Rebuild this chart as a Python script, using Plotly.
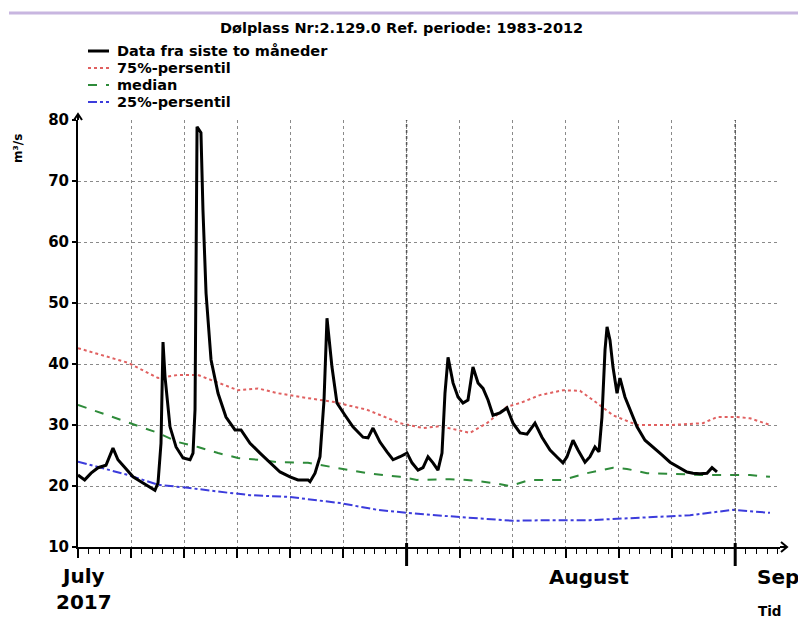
import pandas as pd
import plotly.graph_objects as go

# ---------------- data ----------------
start_date = "2017-07-01"

# observed discharge (days since 1 July 2017, m3/s)
obs_days = [0.00, 0.63, 1.23, 1.89, 2.64, 3.30, 3.77, 4.43, 5.19, 5.94, 6.79, 7.26, 7.55,
            7.83, 8.02, 8.21, 8.68, 9.25, 9.91, 10.57, 10.85, 11.04, 11.23, 11.60, 11.79,
            12.08, 12.55, 13.21, 13.96, 14.81, 15.38, 16.23, 17.17, 18.11, 19.06, 20.00,
            20.75, 21.70, 21.89, 22.36, 22.83, 23.21, 23.49, 23.96, 24.43, 25.19, 25.94,
            26.89, 27.36, 27.83, 28.49, 29.15, 29.72, 30.38, 31.04, 31.51, 32.08, 32.55,
            33.02, 33.49, 33.96, 34.34, 34.62, 34.91, 35.38, 35.85, 36.32, 36.79, 37.26,
            37.74, 38.21, 38.68, 39.15, 39.81, 40.47, 41.04, 41.70, 42.36, 43.11, 43.77,
            44.53, 45.28, 45.75, 46.13, 46.70, 47.17, 47.83, 48.30, 48.77, 49.15, 49.43,
            49.72, 49.91, 50.19, 50.47, 50.85, 51.13, 51.60, 52.08, 52.74, 53.49, 54.25,
            55.09, 55.85, 56.60, 57.45, 58.02, 58.68, 59.34, 59.81, 60.28]
obs_values = [21.8, 21.0, 22.1, 23.0, 23.4, 26.2, 24.3, 23.0, 21.5, 20.7, 19.8, 19.3, 20.5,
              27.0, 43.6, 37.9, 29.7, 26.4, 24.6, 24.3, 25.4, 32.5, 78.9, 77.9, 65.2,
              51.6, 40.7, 35.2, 31.3, 29.2, 29.2, 27.0, 25.4, 23.8, 22.3, 21.5,
              21.0, 21.0, 20.7, 22.1, 24.8, 34.1, 47.5, 39.5, 33.6, 31.6, 29.7,
              28.0, 27.9, 29.5, 27.2, 25.6, 24.3, 24.8, 25.4, 23.8, 22.6, 23.0,
              24.8, 23.8, 22.6, 25.4, 35.2, 41.1, 36.9, 34.6, 33.6, 34.1, 39.5,
              36.9, 36.0, 34.1, 31.6, 32.0, 32.8, 30.3, 28.7, 28.5, 30.3, 28.0,
              25.9, 24.6, 23.8, 24.8, 27.5, 25.9, 23.9, 24.8, 26.4, 25.6, 31.3,
              42.3, 46.1, 43.9, 39.5, 35.2, 37.7, 34.6, 32.5, 29.7, 27.5, 26.4,
              25.1, 23.9, 23.1, 22.3, 22.1, 22.0, 22.1, 23.0, 22.3]

p75_days = [0.00, 4.72, 7.55, 9.43, 11.32, 13.21, 15.09, 16.98, 18.87, 20.94, 24.06, 27.26,
            30.38, 32.55, 34.15, 35.75, 36.98, 38.58, 40.47, 41.70, 43.58, 45.75, 47.36,
            48.96, 50.47, 52.74, 55.85, 58.96, 60.28, 62.17, 63.40, 65.28]
p75_values = [42.6, 40.2, 37.7, 38.2, 38.2, 36.9, 35.7, 36.0, 35.2, 34.6, 33.8, 32.5,
              30.3, 29.5, 29.8, 29.2, 28.7, 30.3, 33.0, 33.6, 34.9, 35.7, 35.6,
              33.6, 31.6, 30.0, 30.0, 30.3, 31.3, 31.3, 31.1, 30.0]

med_days = [0.00, 4.72, 7.55, 9.43, 11.32, 13.21, 15.09, 16.98, 18.87, 21.70, 24.06, 27.26,
            30.38, 31.98, 35.09, 36.70, 39.15, 40.75, 42.64, 45.75, 48.02, 50.47, 51.79,
            53.68, 55.85, 58.96, 63.40, 65.28]
med_values = [33.3, 30.5, 28.7, 27.2, 26.4, 25.4, 24.6, 24.3, 23.9, 23.8, 23.1, 22.1,
              21.5, 21.0, 21.1, 21.0, 20.5, 20.0, 21.0, 21.0, 22.1, 23.0, 22.8,
              22.1, 22.0, 21.8, 21.8, 21.5]

p25_days = [0.00, 4.72, 7.55, 10.38, 14.15, 16.23, 20.00, 24.72, 28.21, 31.04, 36.04, 41.04,
            44.53, 48.30, 53.02, 57.74, 61.79, 65.28]
p25_values = [24.0, 21.8, 20.2, 19.7, 18.9, 18.5, 18.2, 17.2, 16.1, 15.6, 14.9, 14.3,
              14.4, 14.4, 14.8, 15.2, 16.1, 15.6]

y_ticks = [10, 20, 30, 40, 50, 60, 70, 80]
x_tick_dates = ["2017-07-01", "2017-07-06", "2017-07-11", "2017-07-16", "2017-07-21",
                "2017-07-26", "2017-08-01", "2017-08-06", "2017-08-11", "2017-08-16",
                "2017-08-21", "2017-08-26", "2017-09-01"]
month_starts = ["2017-08-01", "2017-09-01"]

title_text = "Dølplass Nr:2.129.0 Ref. periode: 1983-2012"
legend_names = ["Data fra siste to måneder", "75%-persentil", "median", "25%-persentil"]

# ---------------- helpers ----------------
base = pd.Timestamp(start_date)


def to_dates(days):
    return [base + pd.Timedelta(days=d) for d in days]


W, H = 798, 622
L, R, T, B = 78, 780, 120, 547  # plot area in pixels


def px(x):
    return (x - L) / (R - L)


def py(y):
    return (B - y) / (B - T)


FONT = "DejaVu Sans"
colors = ["black", "#e06060", "#2e8b3a", "#3c3cdc"]
dashes = ["solid", "dot", "dash", "dashdot"]
widths = [3, 2, 2, 2]

fig = go.Figure()
series = [(obs_days, obs_values), (p75_days, p75_values), (med_days, med_values),
          (p25_days, p25_values)]
# draw percentiles first, observed on top
for i in [1, 2, 3, 0]:
    d, v = series[i]
    fig.add_trace(go.Scatter(x=to_dates(d), y=v, mode="lines", name=legend_names[i],
                             showlegend=False,
                             line=dict(color=colors[i], width=widths[i], dash=dashes[i])))

x_end = base + pd.Timedelta(days=(R - L) / 10.6)

fig.update_xaxes(
    type="date", range=[base, x_end], showline=True, linecolor="black", linewidth=2,
    tickvals=x_tick_dates, showticklabels=False, ticks="outside", ticklen=9,
    tickwidth=2, tickcolor="black",
    showgrid=True, gridcolor="#8a8a8a", gridwidth=1, griddash="dot", zeroline=False,
    minor=dict(tick0=start_date, dtick=86400000, ticks="outside", ticklen=5, tickwidth=1,
               tickcolor="black", showgrid=False),
)
fig.update_yaxes(
    range=[10, 80], tickvals=y_ticks, showline=True, linecolor="black", linewidth=2,
    ticks="outside", ticklen=4, tickwidth=2, tickcolor="black",
    tickfont=dict(family=FONT, size=15, color="black", weight="bold"),
    showgrid=True, gridcolor="#8a8a8a", gridwidth=1, griddash="dot", zeroline=False,
)

shapes = []
# top purple rule
shapes.append(dict(type="line", xref="paper", yref="paper", x0=px(9), x1=px(798),
                   y0=py(13), y1=py(13), line=dict(color="#c8b6e0", width=3)))
# axis extensions + arrows
shapes.append(dict(type="line", xref="paper", yref="paper", x0=px(R), x1=px(787),
                   y0=0, y1=0, line=dict(color="black", width=2)))
shapes.append(dict(type="path", xref="paper", yref="paper",
                   path=f"M {px(781)} {py(542)} L {px(787)} {py(547)} L {px(781)} {py(552)}",
                   line=dict(color="black", width=2)))
shapes.append(dict(type="line", xref="paper", yref="paper", x0=0, x1=0,
                   y0=1, y1=py(114), line=dict(color="black", width=2)))
shapes.append(dict(type="path", xref="paper", yref="paper",
                   path=f"M {px(74)} {py(120)} L {px(78)} {py(114)} L {px(82)} {py(120)}",
                   line=dict(color="black", width=2)))
# month boundaries: darker grid + long ticks
for m in month_starts:
    shapes.append(dict(type="line", xref="x", yref="paper", x0=m, x1=m, y0=0, y1=1,
                       line=dict(color="#555555", width=1.5, dash="dot")))
    shapes.append(dict(type="line", xref="x", yref="paper", x0=m, x1=m,
                       y0=py(566), y1=py(543), line=dict(color="black", width=3)))

# legend (manual, to match the compact rows)
legend_rows = [51, 68, 85, 102]
for i, yy in enumerate(legend_rows):
    shapes.append(dict(type="line", xref="paper", yref="paper", x0=px(88), x1=px(109),
                       y0=py(yy), y1=py(yy),
                       line=dict(color=colors[i], width=widths[i], dash=dashes[i])))

annotations = []
for i, yy in enumerate(legend_rows):
    annotations.append(dict(xref="paper", yref="paper", x=px(115), y=py(yy),
                            text=legend_names[i], showarrow=False, xanchor="left",
                            yanchor="middle",
                            font=dict(family=FONT, size=14.5, color="black", weight="bold")))

annotations.append(dict(xref="paper", yref="paper", x=px(401), y=py(28), text=title_text,
                        showarrow=False, xanchor="center", yanchor="middle",
                        font=dict(family=FONT, size=14.5, color="black", weight="bold")))
annotations.append(dict(xref="paper", yref="paper", x=px(18), y=py(149), text="m³/s",
                        textangle=-90, showarrow=False, xanchor="center", yanchor="middle",
                        font=dict(family=FONT, size=12, color="black", weight="bold")))
annotations.append(dict(xref="paper", yref="paper", x=px(84), y=py(589),
                        text="July<br>2017", showarrow=False, xanchor="center",
                        yanchor="middle",
                        font=dict(family=FONT, size=20, color="black", weight="bold")))
annotations.append(dict(xref="paper", yref="paper", x=px(589), y=py(577), text="August",
                        showarrow=False, xanchor="center", yanchor="middle",
                        font=dict(family=FONT, size=20, color="black", weight="bold")))
annotations.append(dict(xref="paper", yref="paper", x=px(755), y=py(577), text="Sep",
                        showarrow=False, xanchor="left", yanchor="middle",
                        font=dict(family=FONT, size=20, color="black", weight="bold")))
annotations.append(dict(xref="paper", yref="paper", x=px(770), y=py(611), text="Tid",
                        showarrow=False, xanchor="center", yanchor="middle",
                        font=dict(family=FONT, size=13.5, color="black", weight="bold")))

fig.update_layout(
    width=W, height=H, autosize=False,
    margin=dict(l=L, r=W - R, t=T, b=H - B, pad=0),
    paper_bgcolor="white", plot_bgcolor="white",
    shapes=shapes, annotations=annotations, showlegend=False,
    font=dict(family=FONT, color="black"),
)

fig.write_html("out.html", post_script="document.body.style.margin='0';",
               config={"displayModeBar": False})
